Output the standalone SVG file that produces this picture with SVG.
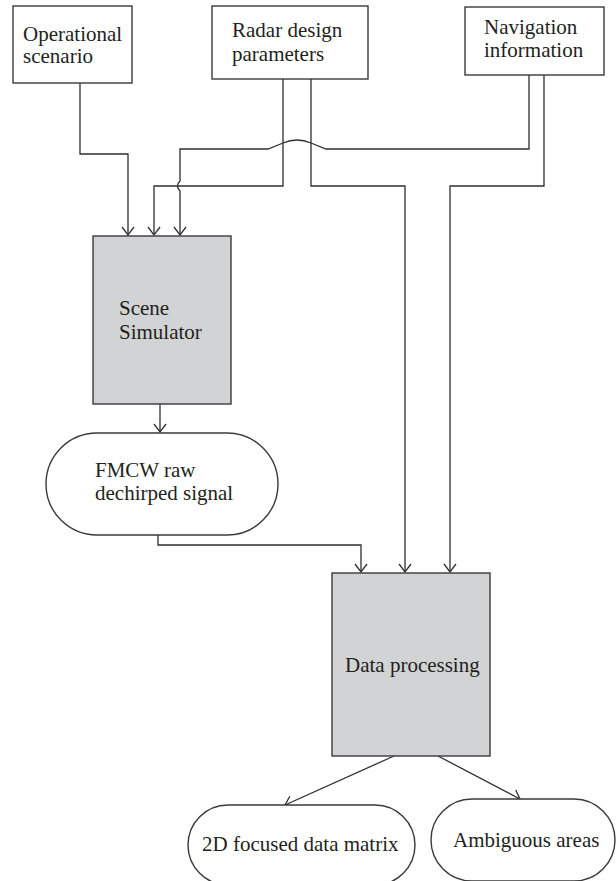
<svg xmlns="http://www.w3.org/2000/svg" width="616" height="881" viewBox="0 0 616 881">
<style>
.box{fill:#ffffff;stroke:#3a3a3a;stroke-width:1.4}
.proc{fill:#d1d3d4;stroke:#3a3a3a;stroke-width:1.4}
.lbl{font-size:21px;fill:#231f20}
.conn{fill:none;stroke:#2f2f2f;stroke-width:1.3}
</style>
<defs>
<marker id="arr" markerUnits="userSpaceOnUse" markerWidth="20" markerHeight="20" refX="0" refY="0" viewBox="-10 -10 20 20" orient="auto" overflow="visible">
<path d="M-8,-6 L0,0 L-8,6" fill="none" stroke="#2f2f2f" stroke-width="1.3"/>
</marker>
</defs>
<rect width="616" height="881" fill="#ffffff"/>
<g id="connectors">
<path class="conn" d="M80,83 V154 H128 V235" marker-end="url(#arr)"/>
<path class="conn" d="M283,79 V186 H154 V235" marker-end="url(#arr)"/>
<path class="conn" d="M529,75 V149 H326 L311,143 Q297,137 283,143 L268,149 H180 V181 Q175,186 180,191 V235" marker-end="url(#arr)"/>
<path class="conn" d="M311,79 V186 H405 V572" marker-end="url(#arr)"/>
<path class="conn" d="M544,75 V186 H450 V572" marker-end="url(#arr)"/>
<path class="conn" d="M160,404 V432" marker-end="url(#arr)"/>
<path class="conn" d="M158,535 V545 H361 V572" marker-end="url(#arr)"/>
<path class="conn" d="M394,756 L285,805" marker-end="url(#arr)"/>
<path class="conn" d="M438,756 L520,799" marker-end="url(#arr)"/>
</g>
<g font-family="'Liberation Serif', 'Times New Roman', 'DejaVu Serif', serif">
<g id="operational">
<rect class="box" x="13" y="6" width="119" height="77"/>
<text class="lbl" x="23" y="41">Operational</text>
<text class="lbl" x="23" y="63">scenario</text>
</g>
<g id="radar">
<rect class="box" x="212" y="6" width="156" height="73"/>
<text class="lbl" x="232" y="37">Radar design</text>
<text class="lbl" x="232" y="61">parameters</text>
</g>
<g id="navigation">
<rect class="box" x="465" y="7" width="139" height="68"/>
<text class="lbl" x="484" y="34">Navigation</text>
<text class="lbl" x="484" y="57">information</text>
</g>
<g id="scene">
<rect class="proc" x="93" y="236" width="138" height="168"/>
<text class="lbl" x="119" y="315">Scene</text>
<text class="lbl" x="119" y="339">Simulator</text>
</g>
<g id="fmcw">
<rect class="box" x="46" y="433" width="232" height="102" rx="51" ry="51"/>
<text class="lbl" x="95" y="477">FMCW raw</text>
<text class="lbl" x="95" y="500">dechirped signal</text>
</g>
<g id="dataproc">
<rect class="proc" x="332" y="573" width="158" height="183"/>
<text class="lbl" x="345" y="672">Data processing</text>
</g>
<g id="focused">
<rect class="box" x="188" y="805" width="227" height="80" rx="40" ry="40"/>
<text class="lbl" x="202" y="851">2D focused data matrix</text>
</g>
<g id="ambiguous">
<rect class="box" x="431" y="799" width="184" height="82" rx="41" ry="41"/>
<text class="lbl" x="453" y="847">Ambiguous areas</text>
</g>
</g>
</svg>
